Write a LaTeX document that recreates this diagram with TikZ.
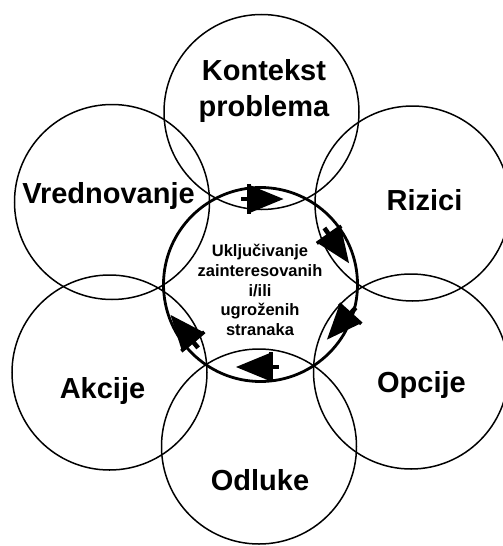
\documentclass[tikz,border=0pt]{standalone}
\usepackage{fontspec}
\setmainfont{Liberation Sans}
\begin{document}
\begin{tikzpicture}[x=1pt,y=-1pt,
  ring/.style={line width=1.5pt},
  hub/.style={line width=2.8pt},
  biglabel/.style={font=\fontsize{29}{36}\selectfont\bfseries, align=center, inner sep=0pt},
  hublabel/.style={font=\fontsize{16.5}{19.7}\selectfont\bfseries, align=center, inner sep=0pt},
  flowarrow/.pic={
    \fill (-13,-14) -- (21,0) -- (-13,14) -- cycle;
    \fill (-22,-2.3) rectangle (-12,2.3);
    \fill (-15.5,-15) rectangle (-12,15);
  }]
\useasboundingbox (0,0) rectangle (503,546);
% circle centres
\coordinate (cK) at (261.5,112);
\coordinate (cV) at (112,202);
\coordinate (cR) at (412.5,203.5);
\coordinate (cO) at (411,371.5);
\coordinate (cA) at (109.5,372.5);
\coordinate (cD) at (259,446.5);
\coordinate (cC) at (260.5,284.5);
% outer circles
\draw[ring] (cK) circle (97.5);
\draw[ring] (cV) circle (97.5);
\draw[ring] (cR) circle (97.5);
\draw[ring] (cO) circle (97.5);
\draw[ring] (cA) circle (97.5);
\draw[ring] (cD) circle (97.5);
% central circle
\draw[hub] (cC) circle (97);
% labels
\node[biglabel] (kontekst) at (264,91.5) {Kontekst\\problema};
\node[biglabel, anchor=base] (vred) at (108.5,203) {Vrednovanje};
\node[biglabel, anchor=base] (riz) at (424.5,210) {Rizici};
\node[biglabel, anchor=base] (opc) at (421.5,392) {Opcije};
\node[biglabel, anchor=base] (akc) at (102.5,398) {Akcije};
\node[biglabel, anchor=base] (odl) at (260,490) {Odluke};
\node[hublabel] (hubtext) at (260,290) {Uključivanje\\zainteresovanih\\i/ili\\ugroženih\\stranaka};
% arrows around the hub (clockwise)
\pic[rotate=0] (a1) at (262.5,199) {flowarrow};
\pic[rotate=-55] (a2) at (337,246) {flowarrow};
\pic[rotate=-132] (a3) at (341,324) {flowarrow};
\pic[rotate=180] (a4) at (257,367) {flowarrow};
\pic[rotate=130] (a5) at (184,331) {flowarrow};
\end{tikzpicture}
\end{document}
